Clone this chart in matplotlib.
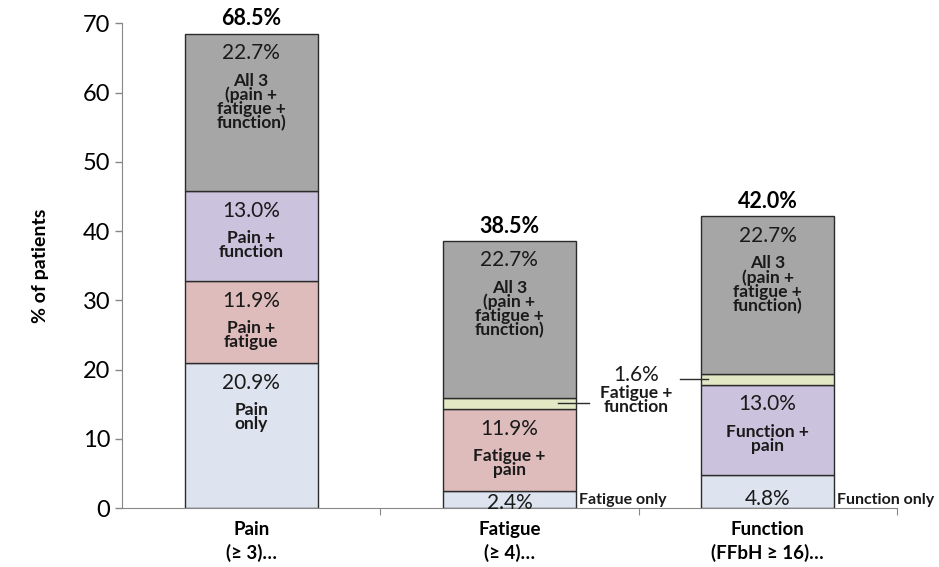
import numpy as np
import matplotlib
matplotlib.use("Agg")
import matplotlib.pyplot as plt

plt.rcParams['font.family'] = ['Lato', 'DejaVu Sans']

# data
categories = ["Pain\n(≥ 3)…", "Fatigue\n(≥ 4)…", "Function\n(FFbH ≥ 16)…"]
totals = ["68.5%", "38.5%", "42.0%"]

# stack segments, bottom to top, per bar
pain_vals = [20.9, 11.9, 13.0, 22.7]
pain_names = ["Pain\nonly", "Pain +\nfatigue", "Pain +\nfunction", "All 3\n(pain +\nfatigue +\nfunction)"]
pain_cols = ["#dde3ef", "#dfbcbc", "#cbc3de", "#a6a6a6"]

fatigue_vals = [2.4, 11.9, 1.6, 22.7]
fatigue_names = [None, "Fatigue +\npain", None, "All 3\n(pain +\nfatigue +\nfunction)"]
fatigue_cols = ["#dde3ef", "#dfbcbc", "#e2e7c4", "#a6a6a6"]

function_vals = [4.8, 13.0, 1.6, 22.7]
function_names = [None, "Function +\npain", None, "All 3\n(pain +\nfatigue +\nfunction)"]
function_cols = ["#dde3ef", "#cbc3de", "#e2e7c4", "#a6a6a6"]

stacks = [(pain_vals, pain_names, pain_cols),
          (fatigue_vals, fatigue_names, fatigue_cols),
          (function_vals, function_names, function_cols)]

fig = plt.figure(figsize=(9.39, 5.67), dpi=100)
ax = fig.add_axes([0.130, 0.104, 0.825, 0.855])

width = 0.515
txt = "#1a1a1a"
for i, (vals, names, cols) in enumerate(stacks):
    bottoms = np.concatenate(([0], np.cumsum(vals)[:-1]))
    for v, b, name, c in zip(vals, bottoms, names, cols):
        ax.bar(i, v, bottom=b, width=width, color=c, edgecolor="#2b2b2b", linewidth=1.0)
        if v < 2:
            continue
        top = b + v
        off = -1 if v < 3 else (-10 if v < 6 else -7)
        ax.annotate(f"{v:.1f}%", (i, top), xytext=(0, off), textcoords="offset points",
                    ha="center", va="top", fontsize=15, color=txt)
        if name:
            ax.annotate(name, (i, top), xytext=(0, off - 21), textcoords="offset points",
                        ha="center", va="top", fontsize=12.5, fontweight="bold", color=txt,
                        linespacing=0.85)
    ax.annotate(totals[i], (i, sum(vals)), xytext=(0, 3), textcoords="offset points",
                ha="center", va="bottom", fontsize=15.5, fontweight="bold", color="black")

# "only" labels outside the small bottom segments
ax.text(1 + width / 2 + 0.012, 0.2, "Fatigue only", ha="left", va="bottom",
        fontsize=11.5, fontweight="bold", color=txt)
ax.text(2 + width / 2 + 0.012, 0.2, "Function only", ha="left", va="bottom",
        fontsize=11.5, fontweight="bold", color=txt)

# shared callout for the thin fatigue + function segments
mid2 = sum(fatigue_vals[:2]) + fatigue_vals[2] / 2
mid3 = sum(function_vals[:2]) + function_vals[2] / 2
ax.plot([1.19, 1.31], [mid2, mid2], color="#2b2b2b", lw=1)
ax.plot([1.66, 1.77], [mid3, mid3], color="#2b2b2b", lw=1)
ax.text(1.49, 19.2, "1.6%", ha="center", va="center", fontsize=15, color=txt)
ax.text(1.49, 15.6, "Fatigue +\nfunction", ha="center", va="center", fontsize=12.5,
        fontweight="bold", color=txt, linespacing=0.85)

ax.set_xlim(-0.5, 2.5)
ax.set_ylim(0, 70)
ax.set_yticks(np.arange(0, 71, 10))
ax.tick_params(axis="y", labelsize=17, colors="#888888", labelcolor="black", length=5, width=1)
ax.set_ylabel("% of patients", fontsize=14, fontweight="bold", labelpad=24)

ax.set_xticks([0.5, 1.5, 2.5])
ax.set_xticklabels([])
ax.set_xticks(range(3), minor=True)
ax.set_xticklabels(categories, minor=True, fontsize=13.5, fontweight="bold", linespacing=1.4)
ax.tick_params(axis="x", which="major", length=5, colors="#888888")
ax.tick_params(axis="x", which="minor", length=0, pad=9)

for s in ["top", "right"]:
    ax.spines[s].set_visible(False)
for s in ["left", "bottom"]:
    ax.spines[s].set_color("#888888")

fig.savefig("out.png", dpi=100)
